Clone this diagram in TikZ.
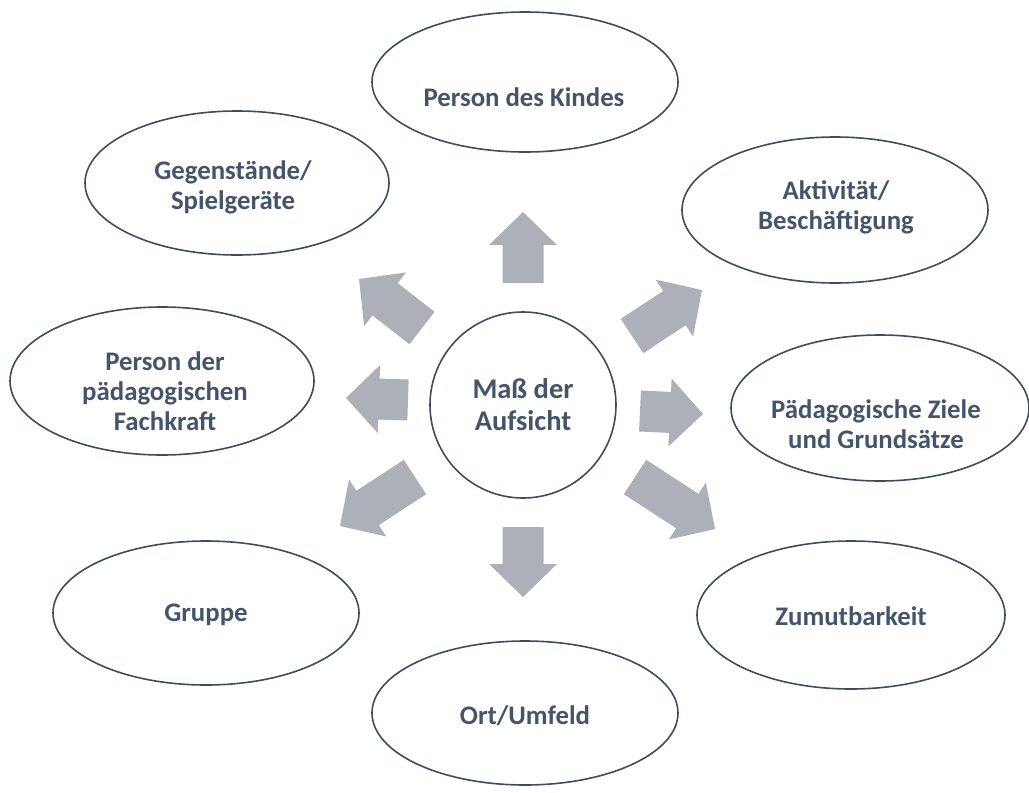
\documentclass[tikz,border=0pt]{standalone}
\usepackage{fontspec}
\setmainfont{Carlito}
\usetikzlibrary{calc}
\definecolor{txt}{HTML}{44546A}
\definecolor{edge}{HTML}{3E4C60}
\definecolor{arrowgray}{HTML}{ADB0B8}
\tikzset{
  outline/.style={draw=edge, line width=1.6pt},
  label/.style={text=txt, font=\bfseries\fontsize{26.8}{30}\selectfont, align=center},
  hub/.style={draw=edge, line width=1.6pt, circle, minimum size=186pt, inner sep=0pt,
    text=txt, font=\bfseries\fontsize{28.5}{32}\selectfont, align=center},
  arrowfill/.style={fill=arrowgray}
}
\newcommand\blockarr[2]{%
  \path ($(#2)!33pt!(#1)$) coordinate (hb);
  \fill[arrowfill] ($(#1)!20.5pt!90:(#2)$) -- ($(hb)!20.5pt!90:(#2)$) -- ($(hb)!34pt!90:(#2)$) -- (#2)
    -- ($(hb)!34pt!-90:(#2)$) -- ($(hb)!20.5pt!-90:(#2)$) -- ($(#1)!20.5pt!-90:(#2)$) -- cycle;}
\begin{document}
\begin{tikzpicture}[x=1pt,y=-1pt]
\useasboundingbox (0,0) rectangle (1029,793);
% ellipses
\draw[outline] (525,82) ellipse [x radius=153, y radius=70];
\node[label] (kind) at (524,97) {Person des Kindes};
\draw[outline] (237,183) ellipse [x radius=152, y radius=72];
\node[label] (geg) at (233,187) {Gegenstände/\\Spielgeräte};
\draw[outline] (835,210) ellipse [x radius=153, y radius=73];
\node[label] (akt) at (836,207) {Aktivität/\\Beschäftigung};
\draw[outline] (162,381) ellipse [x radius=152, y radius=74];
\node[label] (fach) at (165,391) {Person der\\pädagogischen\\Fachkraft};
\draw[outline] (880,408) ellipse [x radius=149, y radius=73];
\node[label] (ziele) at (876,424) {Pädagogische Ziele\\und Grundsätze};
\draw[outline] (206,613) ellipse [x radius=153, y radius=72];
\node[label] (gruppe) at (206,615) {Gruppe};
\draw[outline] (851,615) ellipse [x radius=154, y radius=74];
\node[label] (zumut) at (851,616) {Zumutbarkeit};
\draw[outline] (525,713) ellipse [x radius=153, y radius=72];
\node[label] (ort) at (525,716) {Ort/Umfeld};
% hub
\node[hub] (hub) at (523,405) {Maß der\\Aufsicht};
% arrows
\coordinate (aUt) at (523,283); \coordinate (aUh) at (523,212);
\coordinate (aDt) at (523,527); \coordinate (aDh) at (523,597);
\coordinate (aRt) at (640,411); \coordinate (aRh) at (703,414);
\coordinate (aLt) at (408,400); \coordinate (aLh) at (346,398);
\coordinate (aULt) at (422,328); \coordinate (aULh) at (359,279);
\coordinate (aURt) at (632,336); \coordinate (aURh) at (702,290);
\coordinate (aLLt) at (415,477); \coordinate (aLLh) at (340,526);
\coordinate (aLRt) at (635,477); \coordinate (aLRh) at (715,529);
\blockarr{aUt}{aUh}
\blockarr{aDt}{aDh}
\blockarr{aRt}{aRh}
\blockarr{aLt}{aLh}
\blockarr{aULt}{aULh}
\blockarr{aURt}{aURh}
\blockarr{aLLt}{aLLh}
\blockarr{aLRt}{aLRh}
\end{tikzpicture}
\end{document}
